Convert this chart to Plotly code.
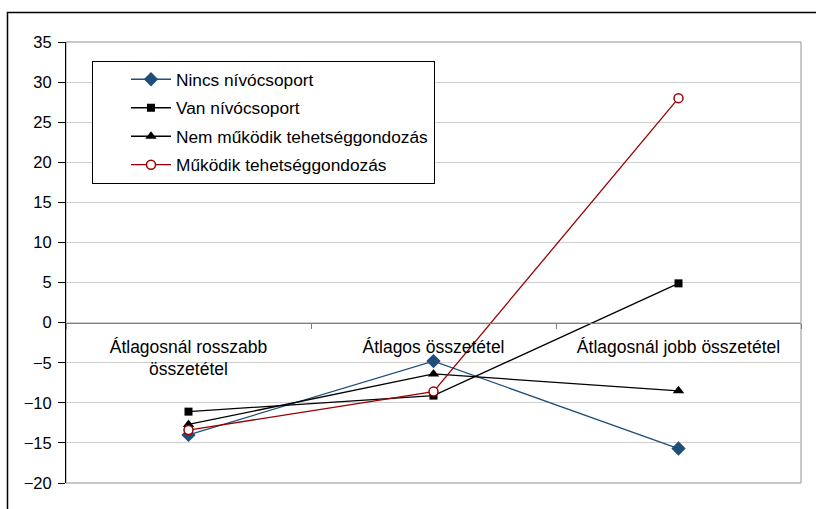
import plotly.graph_objects as go

# Category labels on the horizontal axis
categories = ["Átlagosnál rosszabb<br>összetétel", "Átlagos összetétel", "Átlagosnál jobb összetétel"]

# Series values
nincs_nivocsoport = [-14.0, -4.8, -15.7]
van_nivocsoport = [-11.1, -9.1, 4.9]
nem_mukodik = [-12.7, -6.4, -8.5]
mukodik = [-13.4, -8.6, 28.0]

series_names = [
    "Nincs nívócsoport",
    "Van nívócsoport",
    "Nem működik tehetséggondozás",
    "Működik tehetséggondozás",
]

W, H = 816, 509
L, R, T, B = 66, 801, 42, 483  # plot area in pixels

def px_x(p):
    return (p - L) / (R - L)

def px_y(p):
    return (B - p) / (B - T)

FONT = "Liberation Sans, Arial, sans-serif"

fig = go.Figure()

styles = [
    (nincs_nivocsoport, "#1F4E79", dict(symbol="diamond", size=11)),
    (van_nivocsoport, "#000000", dict(symbol="square", size=8)),
    (nem_mukodik, "#000000", dict(symbol="triangle-up", size=10)),
    (mukodik, "#990000", dict(symbol="circle", size=9)),
]

for i, (vals, col, mk) in enumerate(styles):
    if i == 3:
        marker = dict(symbol=mk["symbol"], size=mk["size"], color="white",
                      line=dict(width=1.5, color=col))
    else:
        marker = dict(symbol=mk["symbol"], size=mk["size"], color=col,
                      line=dict(width=0))
    fig.add_trace(go.Scatter(
        x=categories, y=vals, name=series_names[i], mode="lines+markers",
        line=dict(color=col, width=1.3), marker=marker, legendgroup=f"g{i}",
    ))

fig.update_layout(
    width=W, height=H,
    margin=dict(l=L, r=W - R, t=T, b=H - B),
    paper_bgcolor="white", plot_bgcolor="white",
    font=dict(family=FONT, size=17, color="#000000"),
    showlegend=True,
    legend=dict(
        x=px_x(92), y=px_y(60.5), xanchor="left", yanchor="top",
        bordercolor="#000000", borderwidth=1, bgcolor="white",
        font=dict(family=FONT, size=17.3, color="#000000"),
        tracegroupgap=3, itemwidth=40, indentation=33,
    ),
    xaxis=dict(
        type="category", range=[-0.5, 2.5], automargin=False,
        anchor="free", position=20 / 55,
        showline=True, linecolor="#808080", linewidth=1,
        ticks="outside", ticklen=5, tickcolor="#808080", tickson="boundaries",
        ticklabelstandoff=8,
        showgrid=False, zeroline=False,
        tickfont=dict(family=FONT, size=17.5, color="#000000"),
        fixedrange=True,
    ),
    yaxis=dict(
        range=[-20, 35], dtick=5, tick0=0, automargin=False,
        showline=True, linecolor="#000000", linewidth=1,
        ticks="outside", ticklen=7, tickcolor="#000000",
        ticklabelstandoff=3,
        showgrid=True, gridcolor="#D0D0D0", gridwidth=1,
        zeroline=False,
        tickfont=dict(family=FONT, size=16.5, color="#000000"),
        fixedrange=True,
    ),
    shapes=[
        # plot area frame
        dict(type="rect", xref="paper", yref="paper", x0=0, x1=1, y0=0, y1=1,
             line=dict(color="#909090", width=1), layer="below"),
        # outer chart border
        dict(type="rect", xref="paper", yref="paper",
             x0=px_x(7.5), x1=px_x(830), y0=px_y(530), y1=px_y(12.5),
             line=dict(color="#000000", width=1.5), layer="below"),
    ],
)

fig.write_html("out.html")
